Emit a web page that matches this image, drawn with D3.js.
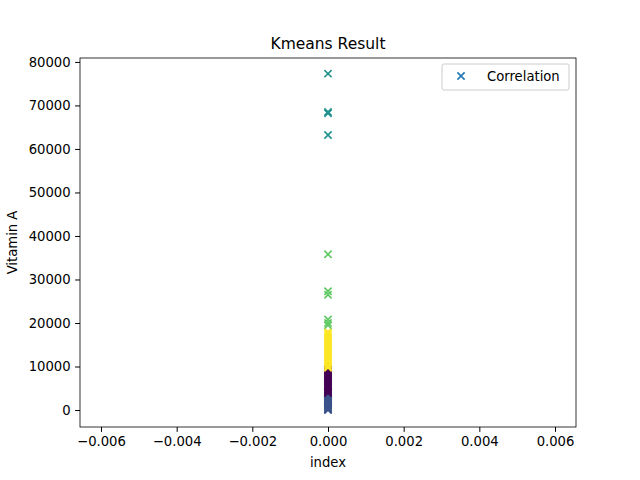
<!DOCTYPE html>
<html><head><meta charset="utf-8">
<script src="https://cdn.jsdelivr.net/npm/d3@7"></script>
<style>body{margin:0;background:#fff}text{font-family:"DejaVu Sans",sans-serif}</style>
</head><body><svg id="c" width="640" height="480"></svg>
<script>
const clusterColors = ["#3b528b","#440154","#fde725","#5ec962","#21918c"];
const blueVals = [0,150,300,500,700,900,1100,1300,1500,1700,1900,2100,2300,2500,2700,2900,3100,3300,3500,3700];
const purpleVals = [3900,4200,4500,4800,5100,5400,5700,6000,6300,6600,6900,7200,7500,7800,8100,8400,8700,9000,9300];
const yellowVals = [9700,10000,10400,10800,11200,11600,12000,12400,12800,13200,13600,14000,14400,14800,15200,15600,16000,16400,16800,17200,17600,18000];
const greenVals = [19500,20000,20800,26500,27300,35800];
const tealVals = [63200,68200,68500,77300];
const xTicks = [-0.006,-0.004,-0.002,0,0.002,0.004,0.006];
const yTicks = [0,10000,20000,30000,40000,50000,60000,70000,80000];
const groups = [blueVals,purpleVals,yellowVals,greenVals,tealVals];

const svg = d3.select("#c");
const L=80,R=576,T=58,B=427;
const x = d3.scaleLinear().domain([-0.006555,0.006555]).range([L,R]);
const y = d3.scaleLinear().domain([-3900,80900]).range([B,T]);

const pts=[];
groups.forEach((g,i)=>g.forEach(v=>pts.push({v,c:clusterColors[i]})));
const s=3.6;
svg.append("g").selectAll("path").data(pts).join("path")
 .attr("d",d=>{const cx=x(0),cy=y(d.v);return `M${cx-s},${cy-s}L${cx+s},${cy+s}M${cx-s},${cy+s}L${cx+s},${cy-s}`;})
 .attr("stroke",d=>d.c).attr("stroke-width",1.6).attr("fill","none");

svg.append("rect").attr("x",L).attr("y",T).attr("width",R-L).attr("height",B-T).attr("fill","none").attr("stroke","#000").attr("stroke-width",0.8);
const fmt = d=> d===0? "0.000" : d3.format(".3f")(d).replace("-","−");
const fs=13.2;
svg.append("g").attr("transform",`translate(0,${B})`).call(d3.axisBottom(x).tickValues(xTicks).tickSize(4.9).tickPadding(4.5).tickSizeOuter(0).tickFormat(fmt))
 .call(g=>{g.select(".domain").remove();g.selectAll("text").attr("font-size",fs).attr("fill","#000").attr("font-family","DejaVu Sans");});
svg.append("g").attr("transform",`translate(${L},0)`).call(d3.axisLeft(y).tickValues(yTicks).tickSize(4.9).tickPadding(4.5).tickSizeOuter(0).tickFormat(d3.format("d")))
 .call(g=>{g.select(".domain").remove();g.selectAll("text").attr("font-size",fs).attr("fill","#000").attr("font-family","DejaVu Sans");});

svg.append("text").attr("x",(L+R)/2).attr("y",49).attr("text-anchor","middle").attr("font-size",15.5).text("Kmeans Result");
svg.append("text").attr("x",(L+R)/2).attr("y",467).attr("text-anchor","middle").attr("font-size",fs).text("index");
svg.append("text").attr("transform",`translate(17,${(T+B)/2}) rotate(-90)`).attr("text-anchor","middle").attr("font-size",fs).text("Vitamin A");

const lg=svg.append("g");
lg.append("rect").attr("x",442).attr("y",64).attr("width",127).attr("height",26).attr("rx",2).attr("fill","#fff").attr("stroke","#ccc");
lg.append("path").attr("d",`M${461-s},${76-s}L${461+s},${76+s}M${461-s},${76+s}L${461+s},${76-s}`).attr("stroke","#1f77b4").attr("stroke-width",1.6);
lg.append("text").attr("x",487).attr("y",81).attr("font-size",fs).text("Correlation");
</script></body></html>
